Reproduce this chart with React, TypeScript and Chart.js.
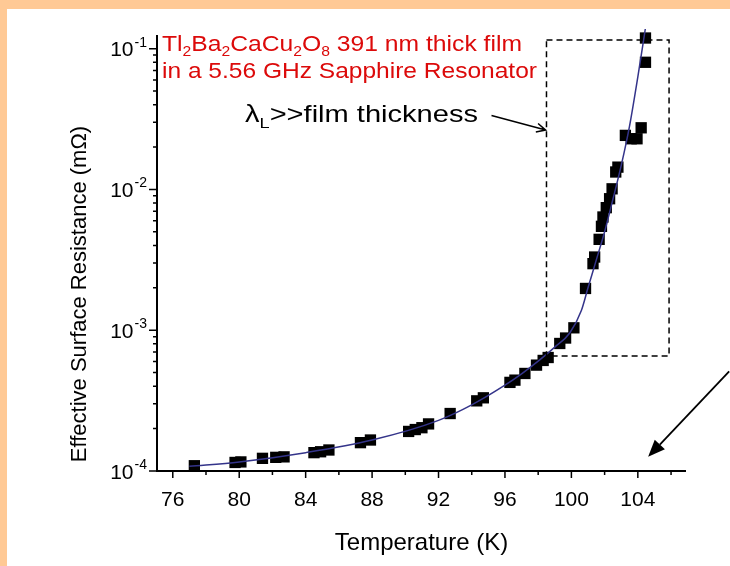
import React, { useEffect, useRef } from 'react';
import { Chart, registerables } from 'chart.js';

Chart.register(...registerables);

// ---- data ----
const temperatureK = [
  77.3, 79.75, 80.1, 81.4, 82.2, 82.7, 84.5, 84.9, 85.4, 87.3, 87.9, 90.2, 90.6, 91.0, 91.4,
  92.7, 94.3, 94.7, 96.3, 96.6, 97.2, 97.9, 98.3, 98.6, 99.3, 99.65, 100.15, 100.85, 101.3,
  101.4, 101.67, 101.81, 101.9, 102.1, 102.3, 102.45, 102.67, 102.8, 103.25, 103.6, 103.95,
  104.2, 104.46, 104.46,
];
const surfaceResistance = [
  1.09e-4, 1.15e-4, 1.16e-4, 1.23e-4, 1.25e-4, 1.26e-4, 1.35e-4, 1.37e-4, 1.41e-4, 1.59e-4,
  1.66e-4, 1.91e-4, 1.97e-4, 2.03e-4, 2.16e-4, 2.56e-4, 3.15e-4, 3.31e-4, 4.26e-4, 4.42e-4,
  4.93e-4, 5.65e-4, 6.1e-4, 6.4e-4, 8.05e-4, 8.8e-4, 1.04e-3, 1.98e-3, 2.97e-3, 3.31e-3,
  4.42e-3, 5.47e-3, 6.37e-3, 7.42e-3, 8.59e-3, 1.01e-2, 1.33e-2, 1.44e-2, 2.42e-2, 2.29e-2,
  2.29e-2, 2.74e-2, 8.0e-2, 0.119,
];
const fitTemperatureK = [
  77, 80, 84, 88, 92, 94, 96, 97, 98, 99, 99.9, 100.6, 101.0, 101.5, 102.0, 102.5, 103.0,
  103.5, 104.0, 104.45,
];
const fitResistance = [
  1.08e-4, 1.16e-4, 1.35e-4, 1.66e-4, 2.29e-4, 2.95e-4, 4.07e-4, 4.9e-4, 6.03e-4, 7.59e-4,
  9.55e-4, 1.38e-3, 2.0e-3, 3.16e-3, 5.01e-3, 8.51e-3, 1.48e-2, 2.82e-2, 6.31e-2, 0.138,
];

const xTickValues = [76, 80, 84, 88, 92, 96, 100, 104];
const xMinorTickValues = [78, 82, 86, 90, 94, 98, 102, 106];
const yTickValues = [1e-4, 1e-3, 1e-2, 1e-1];
const yTickExponents = ['-4', '-3', '-2', '-1'];
const yMinorMultipliers = [2, 3, 4, 5, 6, 7, 8, 9];

const xAxisTitle = 'Temperature (K)';
const yAxisTitle = 'Effective Surface Resistance (mΩ)';
const titleLine1: [string, boolean][] = [
  ['Tl', false], ['2', true], ['Ba', false], ['2', true], ['CaCu', false], ['2', true],
  ['O', false], ['8', true], [' 391 nm thick film', false],
];
const titleLine2: [string, boolean][] = [['in a 5.56 GHz Sapphire Resonator', false]];
const noteText: [string, boolean][] = [['λ', false], ['L', true], ['>>film thickness', false]];

// annotation box / arrows in data coordinates
const boxTemperature = [98.5, 105.88];
const boxResistance = [6.55e-4, 0.115];
const arrow1Temperature = [95.19, 98.45];
const arrow1Resistance = [0.0335, 0.0264];
const arrow2Temperature = [109.5, 104.62];
const arrow2Resistance = [5.1e-4, 1.26e-4];

const FONT = "'Liberation Sans', Arial, Helvetica, sans-serif";

function drawRich(
  ctx: CanvasRenderingContext2D,
  segs: [string, boolean][],
  x: number,
  y: number,
  size: number,
  subSize: number,
  subDrop: number,
  targetWidth: number,
  color: string
) {
  let w = 0;
  for (const [t, sub] of segs) {
    ctx.font = `${sub ? subSize : size}px ${FONT}`;
    w += ctx.measureText(t).width;
  }
  const s = targetWidth / w;
  ctx.save();
  ctx.translate(x, y);
  ctx.scale(s, 1);
  ctx.fillStyle = color;
  ctx.textAlign = 'left';
  ctx.textBaseline = 'alphabetic';
  let cx = 0;
  for (const [t, sub] of segs) {
    ctx.font = `${sub ? subSize : size}px ${FONT}`;
    ctx.fillText(t, cx, sub ? subDrop : 0);
    cx += ctx.measureText(t).width;
  }
  ctx.restore();
}

const decorPlugin = {
  id: 'decor',
  beforeDraw(chart: any) {
    const ctx = chart.ctx as CanvasRenderingContext2D;
    ctx.save();
    ctx.fillStyle = '#ffc995';
    ctx.fillRect(0, 0, chart.width, chart.height);
    ctx.fillStyle = '#ffffff';
    ctx.fillRect(7, 9, chart.width - 7, chart.height - 9);
    ctx.restore();
  },
  afterDraw(chart: any) {
    const ctx = chart.ctx as CanvasRenderingContext2D;
    const xs = chart.scales.x;
    const ys = chart.scales.y;
    const a = chart.chartArea;
    ctx.save();

    // axis lines
    ctx.strokeStyle = '#000';
    ctx.lineWidth = 2;
    ctx.beginPath();
    ctx.moveTo(a.left, a.top);
    ctx.lineTo(a.left, a.bottom);
    ctx.lineTo(a.right, a.bottom);
    ctx.stroke();

    // x ticks
    ctx.lineWidth = 1.5;
    ctx.beginPath();
    for (const v of xTickValues) {
      const px = xs.getPixelForValue(v);
      ctx.moveTo(px, a.bottom);
      ctx.lineTo(px, a.bottom + 7);
    }
    for (const v of xMinorTickValues) {
      const px = xs.getPixelForValue(v);
      ctx.moveTo(px, a.bottom);
      ctx.lineTo(px, a.bottom + 4);
    }
    // y ticks
    for (const v of yTickValues) {
      const py = ys.getPixelForValue(v);
      ctx.moveTo(a.left, py);
      ctx.lineTo(a.left - 8, py);
    }
    for (const d of yTickValues) {
      for (const m of yMinorMultipliers) {
        const v = d * m;
        if (v > ys.max) continue;
        const py = ys.getPixelForValue(v);
        ctx.moveTo(a.left, py);
        ctx.lineTo(a.left - 4, py);
      }
    }
    ctx.stroke();

    // x tick labels
    ctx.fillStyle = '#000';
    ctx.font = `21px ${FONT}`;
    ctx.textAlign = 'center';
    ctx.textBaseline = 'alphabetic';
    for (const v of xTickValues) {
      ctx.fillText(String(v), xs.getPixelForValue(v), a.bottom + 35);
    }

    // y tick labels 10^n
    yTickValues.forEach((v, i) => {
      const py = ys.getPixelForValue(v);
      ctx.font = `14px ${FONT}`;
      const ew = ctx.measureText(yTickExponents[i]).width;
      ctx.textAlign = 'left';
      const right = a.left - 10;
      ctx.fillText(yTickExponents[i], right - ew, py - 2);
      ctx.font = `21px ${FONT}`;
      ctx.textAlign = 'right';
      ctx.fillText('10', right - ew - 1, py + 7.5);
    });

    // axis titles
    ctx.font = `24px ${FONT}`;
    ctx.textAlign = 'center';
    ctx.fillText(xAxisTitle, (a.left + a.right) / 2, a.bottom + 79);
    ctx.save();
    ctx.translate(86, 294);
    ctx.rotate(-Math.PI / 2);
    ctx.font = `22px ${FONT}`;
    ctx.fillText(yAxisTitle, 0, 0);
    ctx.restore();

    // dashed box
    const bx0 = xs.getPixelForValue(boxTemperature[0]);
    const bx1 = xs.getPixelForValue(boxTemperature[1]);
    const by0 = ys.getPixelForValue(boxResistance[1]);
    const by1 = ys.getPixelForValue(boxResistance[0]);
    ctx.setLineDash([6, 4]);
    ctx.lineWidth = 1.5;
    ctx.strokeRect(bx0, by0, bx1 - bx0, by1 - by0);
    ctx.setLineDash([]);

    // arrow 1 (open head)
    const a1x0 = xs.getPixelForValue(arrow1Temperature[0]);
    const a1y0 = ys.getPixelForValue(arrow1Resistance[0]);
    const a1x1 = xs.getPixelForValue(arrow1Temperature[1]);
    const a1y1 = ys.getPixelForValue(arrow1Resistance[1]);
    const ang1 = Math.atan2(a1y1 - a1y0, a1x1 - a1x0);
    ctx.lineWidth = 1.5;
    ctx.beginPath();
    ctx.moveTo(a1x0, a1y0);
    ctx.lineTo(a1x1, a1y1);
    ctx.moveTo(a1x1 - 10 * Math.cos(ang1 - 0.45), a1y1 - 10 * Math.sin(ang1 - 0.45));
    ctx.lineTo(a1x1, a1y1);
    ctx.lineTo(a1x1 - 10 * Math.cos(ang1 + 0.45), a1y1 - 10 * Math.sin(ang1 + 0.45));
    ctx.stroke();

    // arrow 2 (filled head)
    const a2x0 = xs.getPixelForValue(arrow2Temperature[0]);
    const a2y0 = ys.getPixelForValue(arrow2Resistance[0]);
    const a2x1 = xs.getPixelForValue(arrow2Temperature[1]);
    const a2y1 = ys.getPixelForValue(arrow2Resistance[1]);
    const ang2 = Math.atan2(a2y1 - a2y0, a2x1 - a2x0);
    const hl = 17;
    const hw = 7;
    const bxh = a2x1 - hl * Math.cos(ang2);
    const byh = a2y1 - hl * Math.sin(ang2);
    ctx.lineWidth = 1.8;
    ctx.beginPath();
    ctx.moveTo(a2x0, a2y0);
    ctx.lineTo(bxh, byh);
    ctx.stroke();
    ctx.beginPath();
    ctx.moveTo(a2x1, a2y1);
    ctx.lineTo(bxh + hw * Math.sin(ang2), byh - hw * Math.cos(ang2));
    ctx.lineTo(bxh - hw * Math.sin(ang2), byh + hw * Math.cos(ang2));
    ctx.closePath();
    ctx.fill();

    // text annotations
    drawRich(ctx, titleLine1, a.left + 5, a.top + 16, 22, 14, 5, 360, '#dc0a0a');
    drawRich(ctx, titleLine2, a.left + 5, a.top + 43, 22, 14, 5, 375, '#dc0a0a');
    drawRich(ctx, noteText, 245, 122, 24, 15, 6, 233, '#000');

    ctx.restore();
  },
};

export default function App() {
  const ref = useRef<HTMLCanvasElement | null>(null);

  useEffect(() => {
    if (!ref.current) return;
    const points = temperatureK.map((t, i) => ({ x: t, y: surfaceResistance[i] }));
    const fit = fitTemperatureK.map((t, i) => ({ x: t, y: fitResistance[i] }));
    const chart = new Chart(ref.current, {
      type: 'line',
      data: {
        datasets: [
          {
            label: 'fit',
            data: fit,
            borderColor: '#34348a',
            borderWidth: 1.5,
            pointRadius: 0,
            fill: false,
            cubicInterpolationMode: 'monotone',
            order: 0,
            clip: { left: 0, top: 6, right: 0, bottom: 0 } as any,
          },
          {
            label: 'data',
            data: points,
            showLine: false,
            pointStyle: 'rect',
            pointRadius: 8,
            pointBackgroundColor: '#000',
            pointBorderColor: '#000',
            pointBorderWidth: 0,
            order: 1,
            clip: false as any,
          },
        ],
      },
      options: {
        responsive: false,
        animation: false,
        events: [],
        layout: { padding: { left: 0, top: 35, right: 44, bottom: 0 } },
        plugins: { legend: { display: false }, tooltip: { enabled: false }, title: { display: false } },
        scales: {
          x: {
            type: 'linear',
            min: 75.05,
            max: 106.9,
            grid: { display: false },
            border: { display: false },
            ticks: { display: false },
            afterFit: (s: any) => {
              s.height = 95;
            },
          },
          y: {
            type: 'logarithmic',
            min: 1e-4,
            max: 0.125,
            grid: { display: false },
            border: { display: false },
            ticks: { display: false },
            afterFit: (s: any) => {
              s.width = 157;
            },
          },
        },
      },
      plugins: [decorPlugin],
    });
    return () => chart.destroy();
  }, []);

  return (
    <div style={{ position: 'absolute', left: 0, top: 0, width: 730, height: 566 }}>
      <canvas ref={ref} width={730} height={566} style={{ display: 'block', width: 730, height: 566 }} />
    </div>
  );
}
